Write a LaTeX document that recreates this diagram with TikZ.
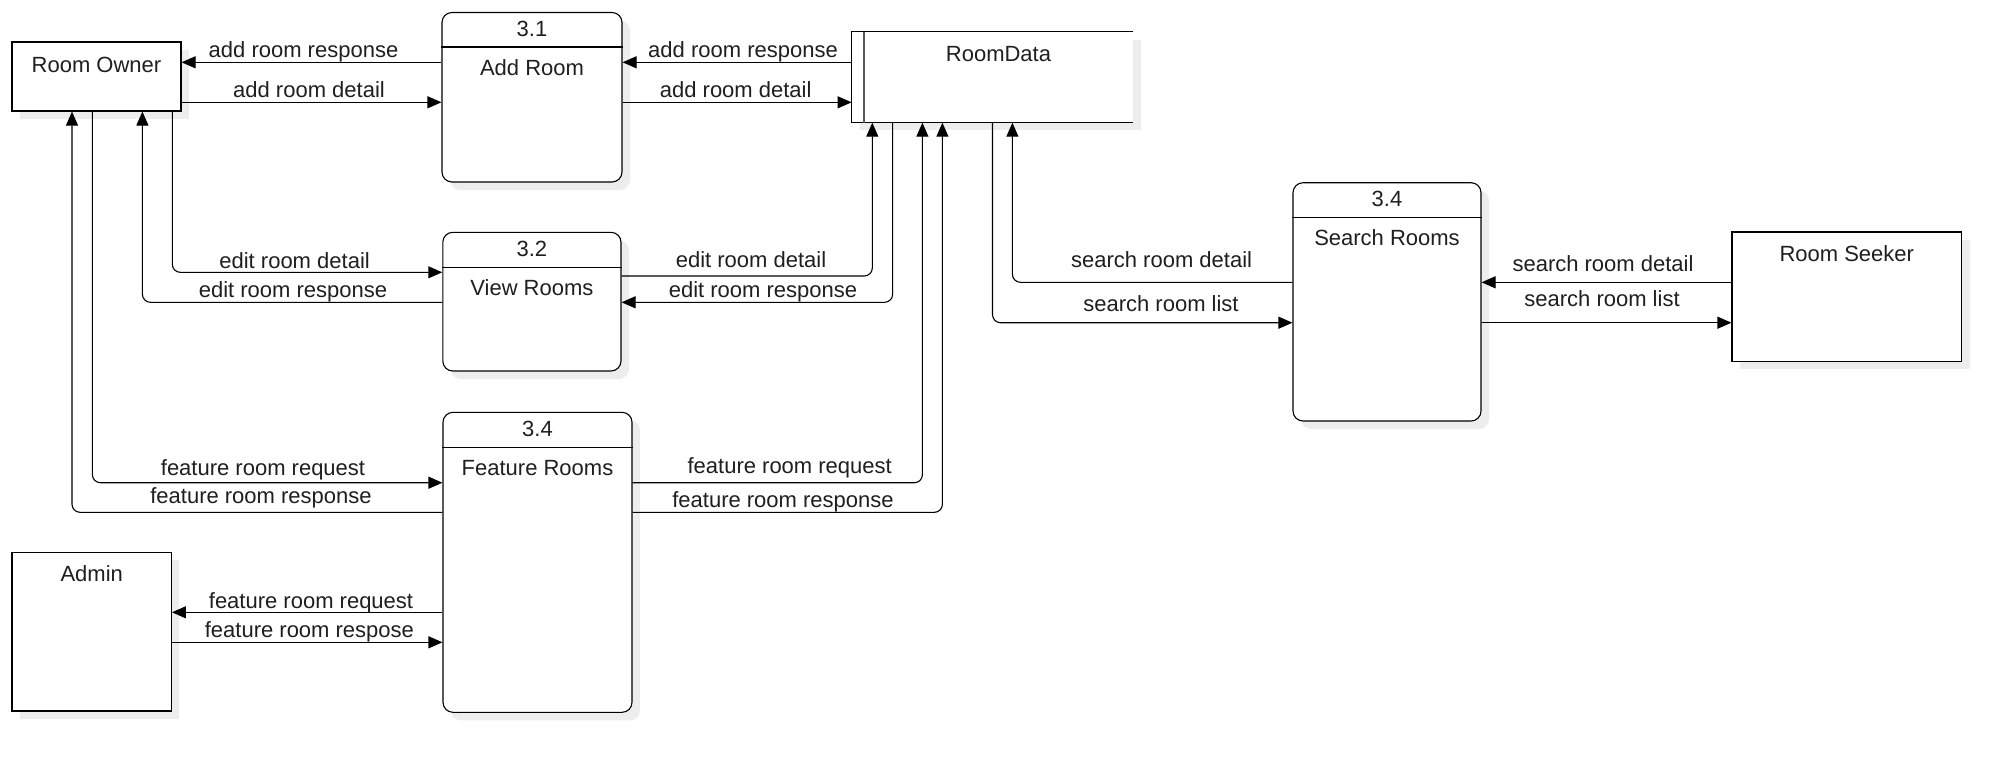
\documentclass[tikz,border=0pt]{standalone}
\usepackage{fontspec}
\setmainfont{Liberation Sans}
\usetikzlibrary{arrows.meta,fit,shadows}
\begin{document}
\begin{tikzpicture}[x=0.5pt,y=-0.5pt,
  font=\fontsize{11}{13}\selectfont,
  shade/.style={drop shadow={shadow xshift=4pt,shadow yshift=-4pt,fill=black!7,opacity=1}},
  entity/.style={draw=black,line width=0.55pt,fill=white,inner sep=0pt,shade},
  proc/.style={entity,rounded corners=5pt},
  store/.style={fill=white,inner sep=0pt,shade},
  edge/.style={line width=0.55pt,draw=black},
  flow/.style={edge,rounded corners=4pt,-{Triangle[length=7pt,width=6pt]}},
  lbl/.style={inner sep=0pt,text height=7.9pt,text depth=0pt,text=black!88}]

\fill[white] (0,0) rectangle (2011,762);
\useasboundingbox (0,0) rectangle (2011,762);

% external entities, processes and the data store
\node[entity, fit={(12,42)(181,111)}] (owner) {};
\node[proc,   fit={(442,12.5)(622,182)}] (addroom) {};
\node[store,  fit={(852,32.3)(1132.5,122.3)}] (roomdata) {};
\node[proc,   fit={(442.8,232.3)(621,371)}] (viewrooms) {};
\node[proc,   fit={(443,412.3)(632,712.3)}] (featurerooms) {};
\node[proc,   fit={(1293,182.7)(1481,421)}] (searchrooms) {};
\node[entity, fit={(1732,232)(1961.5,361.3)}] (seeker) {};
\node[entity, fit={(12,552.3)(171.4,711)}] (admin) {};

% open-ended data store outline
\draw[edge] (roomdata.north east) -- (roomdata.north west) -- (roomdata.south west) -- (roomdata.south east);
\draw[line width=0.8pt,draw=black!65] ([xshift=6.1pt]roomdata.north west) -- ([xshift=6.1pt]roomdata.south west);

% process header separators
\draw[edge] (addroom.west |- 0,47) -- (addroom.east |- 0,47);
\draw[edge] (viewrooms.west |- 0,267.3) -- (viewrooms.east |- 0,267.3);
\draw[edge] (featurerooms.west |- 0,447.3) -- (featurerooms.east |- 0,447.3);
\draw[edge] (searchrooms.west |- 0,217.3) -- (searchrooms.east |- 0,217.3);

% box texts
\node[lbl] (ownerT) at (owner.north |- 0,65) {Room Owner};
\node[lbl] (addroomN) at (addroom.north |- 0,29) {3.1};
\node[lbl] (addroomT) at (addroom.north |- 0,68) {Add Room};
\node[lbl] (roomdataT) at (998.5,54) {RoomData};
\node[lbl] (viewroomsN) at (viewrooms.north |- 0,249) {3.2};
\node[lbl] (viewroomsT) at (viewrooms.north |- 0,288) {View Rooms};
\node[lbl] (featureN) at (featurerooms.north |- 0,429) {3.4};
\node[lbl] (featureT) at (featurerooms.north |- 0,468) {Feature Rooms};
\node[lbl] (searchN) at (searchrooms.north |- 0,199) {3.4};
\node[lbl] (searchT) at (searchrooms.north |- 0,238) {Search Rooms};
\node[lbl] (seekerT) at (seeker.north |- 0,254) {Room Seeker};
\node[lbl] (adminT) at (admin.north |- 0,574) {Admin};

% add room flows
\draw[flow] (addroom.west |- 0,62.3) -- (owner.east |- 0,62.3);
\draw[flow] (owner.east |- 0,102.3) -- (addroom.west |- 0,102.3);
\draw[flow] (roomdata.west |- 0,62.3) -- (addroom.east |- 0,62.3);
\draw[flow] (addroom.east |- 0,102.3) -- (roomdata.west |- 0,102.3);
\node[lbl] (l1) at (303.5,50) {add room response};
\node[lbl] (l2) at (309,90) {add room detail};
\node[lbl] (l3) at (743,50) {add room response};
\node[lbl] (l4) at (735.7,90) {add room detail};

% view / edit room flows
\draw[flow] (owner.south -| 172.3,0) |- (viewrooms.west |- 0,272.3);
\draw[flow] (viewrooms.west |- 0,302.3) -| (owner.south -| 142.4,0);
\draw[flow] (viewrooms.east |- 0,276) -| (roomdata.south -| 872.3,0);
\draw[flow] (roomdata.south -| 892.6,0) |- (viewrooms.east |- 0,302.3);
\node[lbl] (l5) at (294.6,260.7) {edit room detail};
\node[lbl] (l6) at (293,289.3) {edit room response};
\node[lbl] (l7) at (751,260) {edit room detail};
\node[lbl] (l8) at (763,289.3) {edit room response};

% feature room flows
\draw[flow] (owner.south -| 92.4,0) |- (featurerooms.west |- 0,482.7);
\draw[flow] (featurerooms.west |- 0,512.3) -| (owner.south -| 72,0);
\draw[flow] (featurerooms.east |- 0,482.7) -| (roomdata.south -| 922.4,0);
\draw[flow] (featurerooms.east |- 0,512.3) -| (roomdata.south -| 942.4,0);
\draw[flow] (featurerooms.west |- 0,612.3) -- (admin.east |- 0,612.3);
\draw[flow] (admin.east |- 0,642.3) -- (featurerooms.west |- 0,642.3);
\node[lbl] (l9) at (263,468) {feature room request};
\node[lbl] (l10) at (261,496) {feature room response};
\node[lbl] (l11) at (789.7,466) {feature room request};
\node[lbl] (l12) at (783,500) {feature room response};
\node[lbl] (l13) at (311,600.7) {feature room request};
\node[lbl] (l14) at (309.4,629.3) {feature room respose};

% search room flows
\draw[flow] (searchrooms.west |- 0,282.3) -| (roomdata.south -| 1012.4,0);
\draw[flow] (roomdata.south -| 992.5,0) |- (searchrooms.west |- 0,322.7);
\draw[flow] (seeker.west |- 0,282.3) -- (searchrooms.east |- 0,282.3);
\draw[flow] (searchrooms.east |- 0,322.7) -- (seeker.west |- 0,322.7);
\node[lbl] (l15) at (1161.6,259.3) {search room detail};
\node[lbl] (l16) at (1161,304) {search room list};
\node[lbl] (l17) at (1603,263.3) {search room detail};
\node[lbl] (l18) at (1602,299) {search room list};
\end{tikzpicture}
\end{document}
